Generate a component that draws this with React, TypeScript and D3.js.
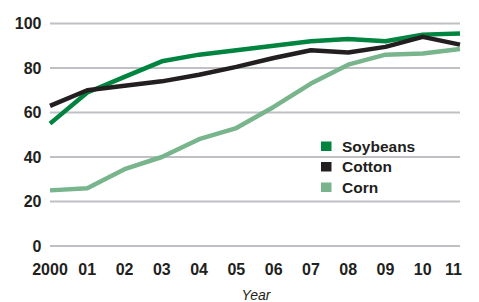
import React from "react";
import * as d3 from "d3";

const years = [2000, 2001, 2002, 2003, 2004, 2005, 2006, 2007, 2008, 2009, 2010, 2011];
const yearLabels = ["2000", "01", "02", "03", "04", "05", "06", "07", "08", "09", "10", "11"];
const soybeans = [55, 69, 76, 83, 86, 88, 90, 92, 93, 92, 95, 95.5];
const cotton = [63, 70, 72, 74, 77, 80.5, 84.5, 88, 87, 89.5, 94, 90.5];
const corn = [25, 26, 34.5, 40, 48, 53, 62.5, 73, 81.5, 86, 86.5, 88.5];
const yTicks = [0, 20, 40, 60, 80, 100];

const seriesNames = ["Soybeans", "Cotton", "Corn"];
const seriesColors = ["#00843f", "#231f20", "#78b58c"];

const W = 479;
const H = 302;

export default function App() {
  const x = d3.scaleLinear().domain([2000, 2011]).range([50, 460]);
  const y = d3.scaleLinear().domain([0, 100]).range([246, 23.5]);
  const line = d3
    .line<number>()
    .x((_, i) => x(years[i]))
    .y((d) => y(d));

  const data = [soybeans, cotton, corn];
  const drawOrder = [2, 0, 1];
  const font = "'Liberation Sans', Arial, Helvetica, sans-serif";
  const textColor = "#231f20";

  return (
    <svg
      width={W}
      height={H}
      style={{ position: "absolute", left: 0, top: 0, background: "#fff" }}
      fontFamily={font}
    >
      {yTicks.map((t) => (
        <g key={t}>
          <line x1={50} x2={460} y1={y(t)} y2={y(t)} stroke="#bfc0c3" strokeWidth={2} />
          <text
            x={41.5}
            y={y(t) + 5.8}
            textAnchor="end"
            fontSize={16}
            fontWeight="bold"
            fill={textColor}
          >
            {t}
          </text>
        </g>
      ))}
      {drawOrder.map((si) => (
        <path
          key={seriesNames[si]}
          d={line(data[si]) || ""}
          fill="none"
          stroke={seriesColors[si]}
          strokeWidth={4.5}
          strokeLinejoin="round"
        />
      ))}
      {years.map((yr, i) => {
        const last = i === years.length - 1;
        return (
          <text
            key={yr}
            x={last ? x(yr) + 2 : x(yr)}
            y={274.5}
            textAnchor={last ? "end" : "middle"}
            fontSize={16}
            fontWeight="bold"
            fill={textColor}
          >
            {yearLabels[i]}
          </text>
        );
      })}
      <text x={256} y={300} textAnchor="middle" fontSize={14} fontStyle="italic" fill={textColor}>
        Year
      </text>
      {seriesNames.map((name, i) => (
        <g key={name} transform={`translate(321, ${141.5 + i * 20.5})`}>
          <rect x={0} y={0} width={10.5} height={9.5} fill={seriesColors[i]} />
          <text x={21} y={10} fontSize={15.5} fontWeight="bold" fill={textColor}>
            {name}
          </text>
        </g>
      ))}
    </svg>
  );
}
